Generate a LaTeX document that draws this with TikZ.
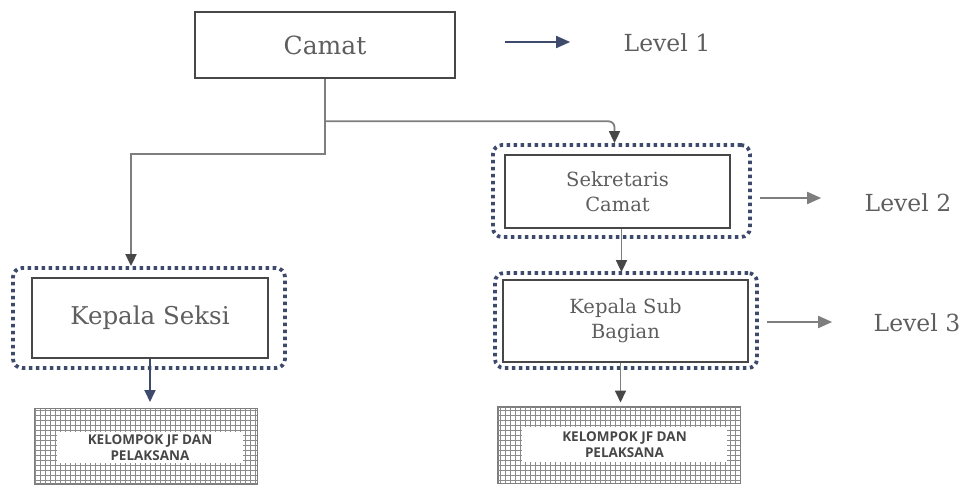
\documentclass[tikz,border=0pt]{standalone}
\usepackage{fontspec}
\setmainfont{DejaVu Serif}
\newfontfamily\jffont{Open Sans}
\usetikzlibrary{arrows.meta,calc}

\definecolor{garis}{HTML}{474747}
\definecolor{teks}{HTML}{5E5E5E}
\definecolor{abu}{HTML}{7E7E7E}
\definecolor{biru}{HTML}{3D4A6B}

\tikzset{
	kotak/.style={draw=garis, line width=2.6pt, fill=white, text=teks, align=center, inner sep=0pt},
	titik/.style={draw=biru, line width=3.8pt, dash pattern=on 3.4pt off 3.6pt, rounded corners=9pt, inner sep=0pt},
	hub/.style={draw=abu, line width=1.8pt, -{Triangle[length=12pt, width=11pt, color=garis]}},
	hubbiru/.style={hub, draw=biru, -{Triangle[length=12pt, width=11pt, color=biru]}},
	hubket/.style={hub, -{Triangle[length=14pt, width=12pt, color=abu]}},
	jfbox/.style={draw=abu, line width=1pt, inner sep=0pt},
	jfisi/.style={fill=white, inner sep=0pt, align=center, text=garis, font=\jffont\bfseries\fontsize{13.5}{16}\selectfont},
	lvl/.style={text=teks, font=\fontsize{23.5}{28}\selectfont}
}

\begin{document}
\begin{tikzpicture}[x=1pt, y=1pt]
	\useasboundingbox (0,0) rectangle (967,-487);
	% level 1
	\node[kotak, minimum width=260pt, minimum height=66pt, font=\fontsize{25}{30}\selectfont] (camat) at (325,-45) {Camat};
	% level 2 dan 3
	\node[titik, minimum width=272pt, minimum height=100pt] (kasieluar) at (149,-318) {};
	\node[kotak, minimum width=236pt, minimum height=80pt, font=\fontsize{24.5}{30}\selectfont] (kasie) at (150,-318) {Kepala Seksi};
	\node[titik, minimum width=257pt, minimum height=92pt] (sekcamluar) at (621.5,-191) {};
	\node[kotak, minimum width=225pt, minimum height=73pt, font=\fontsize{19.5}{25}\selectfont] (sekcam) at (617.5,-191.5) {Sekretaris\\Camat};
	\node[titik, minimum width=262pt, minimum height=95pt] (kasubagluar) at (626,-320.5) {};
	\node[kotak, minimum width=245pt, minimum height=82pt, font=\fontsize{19.5}{25}\selectfont] (kasubag) at (625.5,-321) {Kepala Sub\\Bagian};
	% kelompok jf
	\node[jfbox, minimum width=222pt, minimum height=75pt] (jfkiri) at (146,-446) {};
	\node[jfbox, minimum width=242pt, minimum height=76pt] (jfkanan) at (619,-445) {};
	\foreach \k in {jfkiri,jfkanan} {
		\begin{scope}
			\clip (\k.south west) rectangle (\k.north east);
			\draw[abu!90, line width=0.55pt, step=5] (\k.south west) grid (\k.north east);
		\end{scope}
		\draw[abu, line width=1pt] (\k.south west) rectangle (\k.north east);
	}
	\node[jfisi, minimum width=186pt, minimum height=31pt] (jfkiriisi) at (150,-447.5) {KELOMPOK JF DAN\\PELAKSANA};
	\node[jfisi, minimum width=205pt, minimum height=35pt] (jfkananisi) at (624.5,-444.5) {KELOMPOK JF DAN\\PELAKSANA};
	% garis hubung
	\coordinate (simpul) at ($(camat.south)+(0,-42)$);
	\draw[hub] (camat.south) -- ++(0,-75) -| ([xshift=-18pt]kasieluar.north);
	\draw[hub, rounded corners=6pt] (simpul) -| ([xshift=-7pt]sekcamluar.north);
	\draw[hub] ([xshift=4pt]sekcam.south) -- ([xshift=4pt,yshift=-1pt]sekcam.south |- kasubagluar.north);
	\draw[hubbiru] (kasie.south) -- ([yshift=6pt]kasie.south |- jfkiri.north);
	\draw[hub] ([xshift=-5pt]kasubag.south) -- ([xshift=-5pt,yshift=4pt]kasubag.south |- jfkanan.north);
	% keterangan level
	\node[lvl] (lv1) at (667,-43) {Level 1};
	\node[lvl] (lv2) at (908,-203) {Level 2};
	\node[lvl] (lv3) at (917,-323) {Level 3};
	\coordinate (a1) at (505,-42);
	\coordinate (a2) at (760,-198);
	\coordinate (a3) at (767,-322);
	\draw[hubbiru, -{Triangle[length=14pt, width=12pt, color=biru]}] (a1) -- ($(a1 -| lv1.west)+(-50,0)$);
	\draw[hubket] (a2) -- ($(a2 -| lv2.west)+(-40,0)$);
	\draw[hubket] (a3) -- ($(a3 -| lv3.west)+(-38,0)$);
\end{tikzpicture}
\end{document}
